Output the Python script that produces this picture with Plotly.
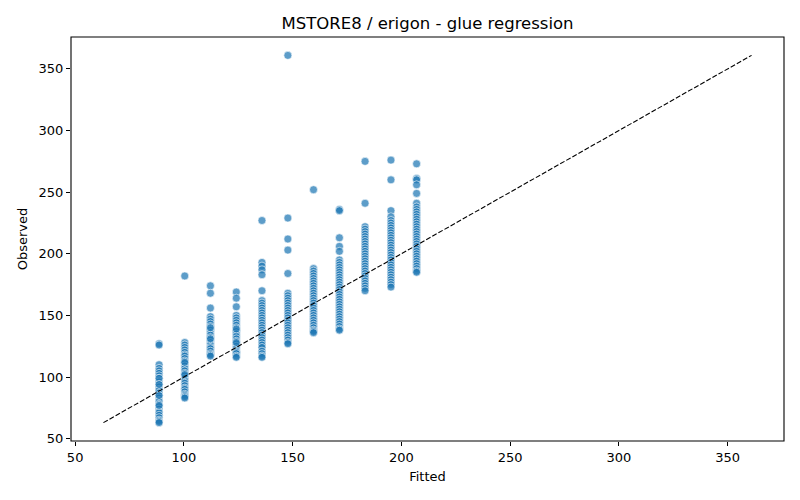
import plotly.graph_objects as go

# fitted value for each group of observations
fitted_levels = [88.6, 100.4, 112.2, 124.1, 135.9, 147.8, 159.6, 171.5, 183.3, 195.2, 207.0]

obs_088 = [127, 126, 110, 107, 105, 103, 101, 99, 97, 96, 94, 92, 90, 89, 87, 85, 83, 81, 80,
           78, 76, 74, 72, 71, 69, 67, 65, 64, 63, 99, 94, 85, 77]
obs_100 = [182, 128, 126, 124, 122, 120, 118, 117, 115, 113, 111, 109, 107, 105, 103, 101, 99,
           97, 95, 93, 91, 90, 88, 86, 85, 84, 83, 112, 102]
obs_112 = [174, 168, 156, 149, 147, 145, 143, 141, 139, 138, 136, 134, 132, 130, 128, 126, 124,
           123, 121, 119, 118, 117, 140, 131]
obs_124 = [169, 164, 157, 150, 148, 146, 144, 142, 140, 138, 137, 135, 133, 131, 129, 127, 125,
           123, 121, 120, 119, 117, 116, 139, 128]
obs_136 = [227, 193, 190, 187, 183, 170, 162, 160, 158, 156, 154, 152, 150, 148, 146, 144, 142,
           140, 138, 136, 134, 132, 130, 128, 126, 124, 121, 119, 117, 116]
obs_148 = [361, 229, 212, 203, 184, 168, 166, 164, 162, 160, 158, 156, 154, 152, 150, 148, 146,
           144, 142, 140, 138, 136, 134, 132, 130, 128, 127]
obs_160 = [252, 188, 186, 184, 182, 180, 178, 176, 174, 172, 170, 168, 166, 164, 162, 160, 158,
           156, 154, 152, 150, 148, 146, 144, 142, 140, 138, 137, 136]
obs_172 = [236, 235, 213, 206, 202, 195, 193, 191, 189, 187, 185, 183, 181, 179, 177, 175, 173,
           171, 169, 167, 165, 163, 161, 159, 157, 155, 153, 151, 149, 147, 145, 143, 141, 139, 138]
obs_184 = [275, 241, 222, 220, 218, 216, 214, 212, 210, 208, 206, 204, 202, 200, 198, 196, 194,
           192, 190, 188, 186, 184, 182, 180, 178, 176, 174, 172, 170]
obs_196 = [276, 260, 235, 230, 227, 225, 223, 221, 219, 217, 215, 213, 211, 209, 207, 205, 203,
           201, 199, 197, 195, 193, 191, 189, 187, 185, 183, 181, 179, 177, 175, 173]
obs_208 = [273, 261, 260, 256, 249, 241, 238, 236, 234, 232, 230, 228, 226, 224, 222, 220, 218,
           216, 214, 212, 210, 208, 206, 204, 202, 200, 198, 196, 194, 192, 190, 188, 186, 185]

groups = [obs_088, obs_100, obs_112, obs_124, obs_136, obs_148,
          obs_160, obs_172, obs_184, obs_196, obs_208]

xs = []
ys = []
for f, obs in zip(fitted_levels, groups):
    xs += [f] * len(obs)
    ys += obs

lo = min(min(xs), min(ys))
hi = max(max(xs), max(ys))

fig = go.Figure()
fig.add_trace(go.Scatter(
    x=xs, y=ys, mode="markers",
    marker=dict(color="rgba(31,119,180,0.72)", size=8,
                line=dict(color="white", width=0.6)),
    showlegend=False))
fig.add_trace(go.Scatter(
    x=[lo, hi], y=[lo, hi], mode="lines",
    line=dict(color="black", width=1.1, dash="5px,2px"),
    showlegend=False))

# matplotlib style 5% padding
pad = 0.05 * (hi - lo)

axis_style = dict(showline=False, ticks="outside", ticklen=4, tickwidth=1.1,
                  tickcolor="#000000", showgrid=False, zeroline=False,
                  tickfont=dict(size=13, color="black"), dtick=50,
                  automargin=False)

# frame round the plot area, in paper coordinates
fig.add_shape(type="rect", xref="paper", yref="paper", x0=0, y0=0, x1=1, y1=1,
              line=dict(color="black", width=1.1), layer="above")

# page body has an 8px margin, so the figure is shrunk and shifted to match
fig.update_layout(
    width=792, height=492,
    plot_bgcolor="white", paper_bgcolor="white",
    font=dict(family="DejaVu Sans", color="black"),
    margin=dict(l=63, r=16, t=29, b=59, autoexpand=False),
    title=dict(text="MSTORE8 / erigon - glue regression", x=0.5, xref="paper",
               xanchor="center", y=0.97, yanchor="middle", font=dict(size=16.5),
               automargin=False),
    xaxis=dict(title=dict(text="Fitted", font=dict(size=13), standoff=8),
               range=[lo - pad, hi + pad], **axis_style),
    yaxis=dict(title=dict(text="Observed", font=dict(size=13), standoff=8),
               range=[lo - pad, hi + pad], **axis_style),
)

fig.write_html("out.html")
